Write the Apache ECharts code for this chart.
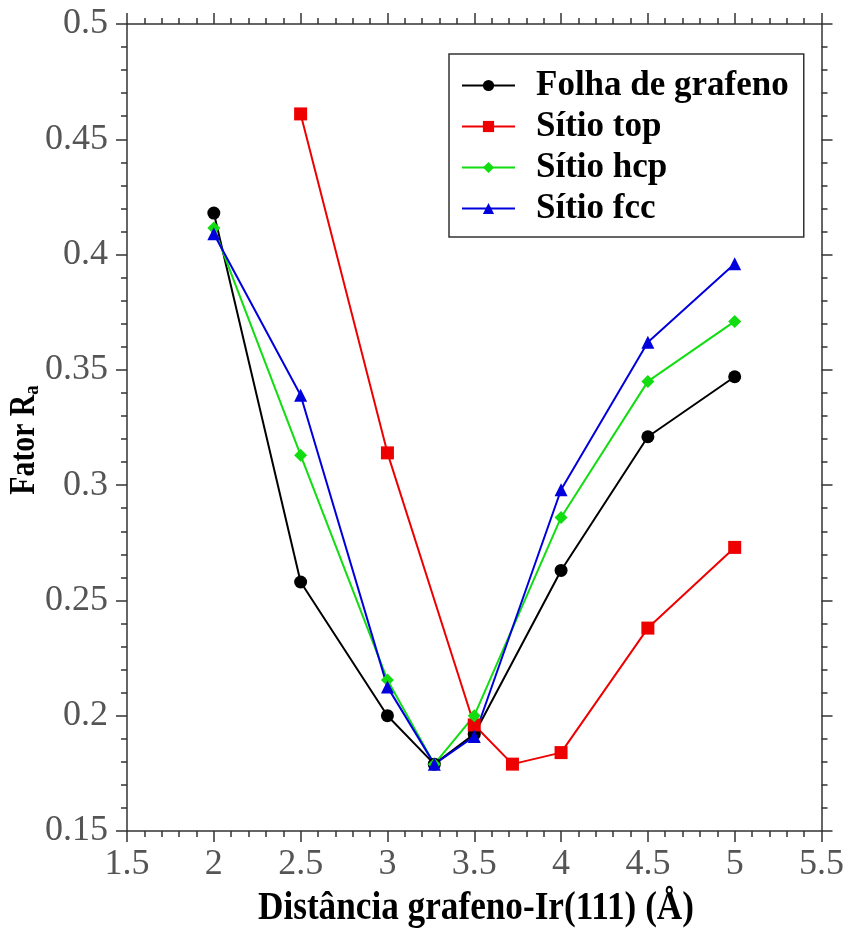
<!DOCTYPE html>
<html>
<head>
<meta charset="utf-8">
<script src="https://cdn.jsdelivr.net/npm/echarts@6/dist/echarts.min.js"></script>
<style>html,body{margin:0;padding:0;background:#fff}#c{width:847px;height:930px}</style>
</head>
<body>
<div id="c"></div>
<script>
const seriesNames = ['Folha de grafeno', 'Sítio top', 'Sítio hcp', 'Sítio fcc'];
const xMain = [2, 2.5, 3, 3.27, 3.5, 4, 4.5, 5];
const xTop = [2.5, 3, 3.5, 3.72, 4, 4.5, 5];
const folha = [0.418, 0.258, 0.200, 0.179, 0.192, 0.263, 0.321, 0.347];
const sitioTop = [0.461, 0.314, 0.196, 0.179, 0.184, 0.238, 0.273];
const sitioHcp = [0.4115, 0.313, 0.2155, 0.179, 0.200, 0.286, 0.345, 0.371];
const sitioFcc = [0.409, 0.339, 0.2125, 0.179, 0.191, 0.298, 0.362, 0.396];
const xTitle = 'Distância grafeno-Ir(111) (Å)';
const yTitleMain = 'Fator R';
const yTitleSub = 'a';

const pair = (xs, ys) => xs.map((x, i) => [x, ys[i]]);
const axisCol = '#333';
const labelFont = {fontFamily: 'Liberation Serif', fontSize: 36, color: '#555'};

const chart = echarts.init(document.getElementById('c'), null, {renderer: 'canvas'});
const baseX = {
  type: 'value', min: 1.5, max: 5.5, interval: 0.5,
  minorTick: {show: true, splitNumber: 5, length: 6, lineStyle: {color: axisCol, width: 1.5}},
  axisTick: {show: true, inside: false, length: 11, lineStyle: {color: axisCol, width: 1.5}},
  axisLine: {show: true, onZero: false, lineStyle: {color: axisCol, width: 1.5}},
  splitLine: {show: false}, minorSplitLine: {show: false}
};
const baseY = {
  type: 'value', min: 0.15, max: 0.5, interval: 0.05,
  minorTick: {show: true, splitNumber: 5, length: 6, lineStyle: {color: axisCol, width: 1.5}},
  axisTick: {show: true, inside: false, length: 11, lineStyle: {color: axisCol, width: 1.5}},
  axisLine: {show: true, onZero: false, lineStyle: {color: axisCol, width: 1.5}},
  splitLine: {show: false}, minorSplitLine: {show: false}
};
const mk = (name, data, color, symbol, size) => ({
  name, type: 'line', data, symbol, symbolSize: size,
  lineStyle: {color, width: 2}, itemStyle: {color},
  animation: false
});
chart.setOption({
  animation: false,
  grid: {left: 127, right: 21, top: 24, bottom: 99},
  xAxis: [
    Object.assign({}, baseX, {position: 'bottom',
      axisLabel: Object.assign({margin: 16, formatter: v => String(+v.toFixed(2))}, labelFont)}),
    Object.assign({}, baseX, {position: 'top', axisLabel: {show: false}})
  ],
  yAxis: [
    Object.assign({}, baseY, {position: 'left',
      axisLabel: Object.assign({margin: 19, formatter: v => String(+v.toFixed(2))}, labelFont)}),
    Object.assign({}, baseY, {position: 'right', axisLabel: {show: false}})
  ],
  legend: {
    orient: 'vertical', left: 449, top: 54,
    data: seriesNames,
    itemWidth: 53, itemHeight: 14, itemGap: 6,
    padding: [14, 15, 11, 12],
    borderColor: axisCol, borderWidth: 1.5, backgroundColor: '#fff',
    textStyle: {fontFamily: 'Liberation Serif', fontWeight: 'bold', fontSize: 35, color: '#000', padding: [0, 0, 0, 16]}
  },
  graphic: [
    {type: 'text', x: 476, y: 909, scaleX: 0.88, style: {text: xTitle, font: 'bold 40px "Liberation Serif"', fill: '#000', textAlign: 'center', textVerticalAlign: 'middle'}},
    {type: 'text', x: 25, y: 440, rotation: Math.PI / 2, scaleX: 0.85, style: {
      text: '{m|' + yTitleMain + '}{s|' + yTitleSub + '}',
      rich: {m: {fontFamily: 'Liberation Serif', fontWeight: 'bold', fontSize: 35, fill: '#000'},
             s: {fontFamily: 'Liberation Serif', fontWeight: 'bold', fontSize: 22, fill: '#000', padding: [14, 0, 0, 0]}},
      textAlign: 'center', textVerticalAlign: 'middle'}}
  ],
  series: [
    mk(seriesNames[0], pair(xMain, folha), '#000000', 'circle', 13),
    mk(seriesNames[1], pair(xTop, sitioTop), '#ee0000', 'rect', 13),
    mk(seriesNames[2], pair(xMain, sitioHcp), '#11dd11', 'diamond', 13),
    mk(seriesNames[3], pair(xMain, sitioFcc), '#0000dd', 'triangle', 13)
  ]
});
</script>
</body>
</html>
